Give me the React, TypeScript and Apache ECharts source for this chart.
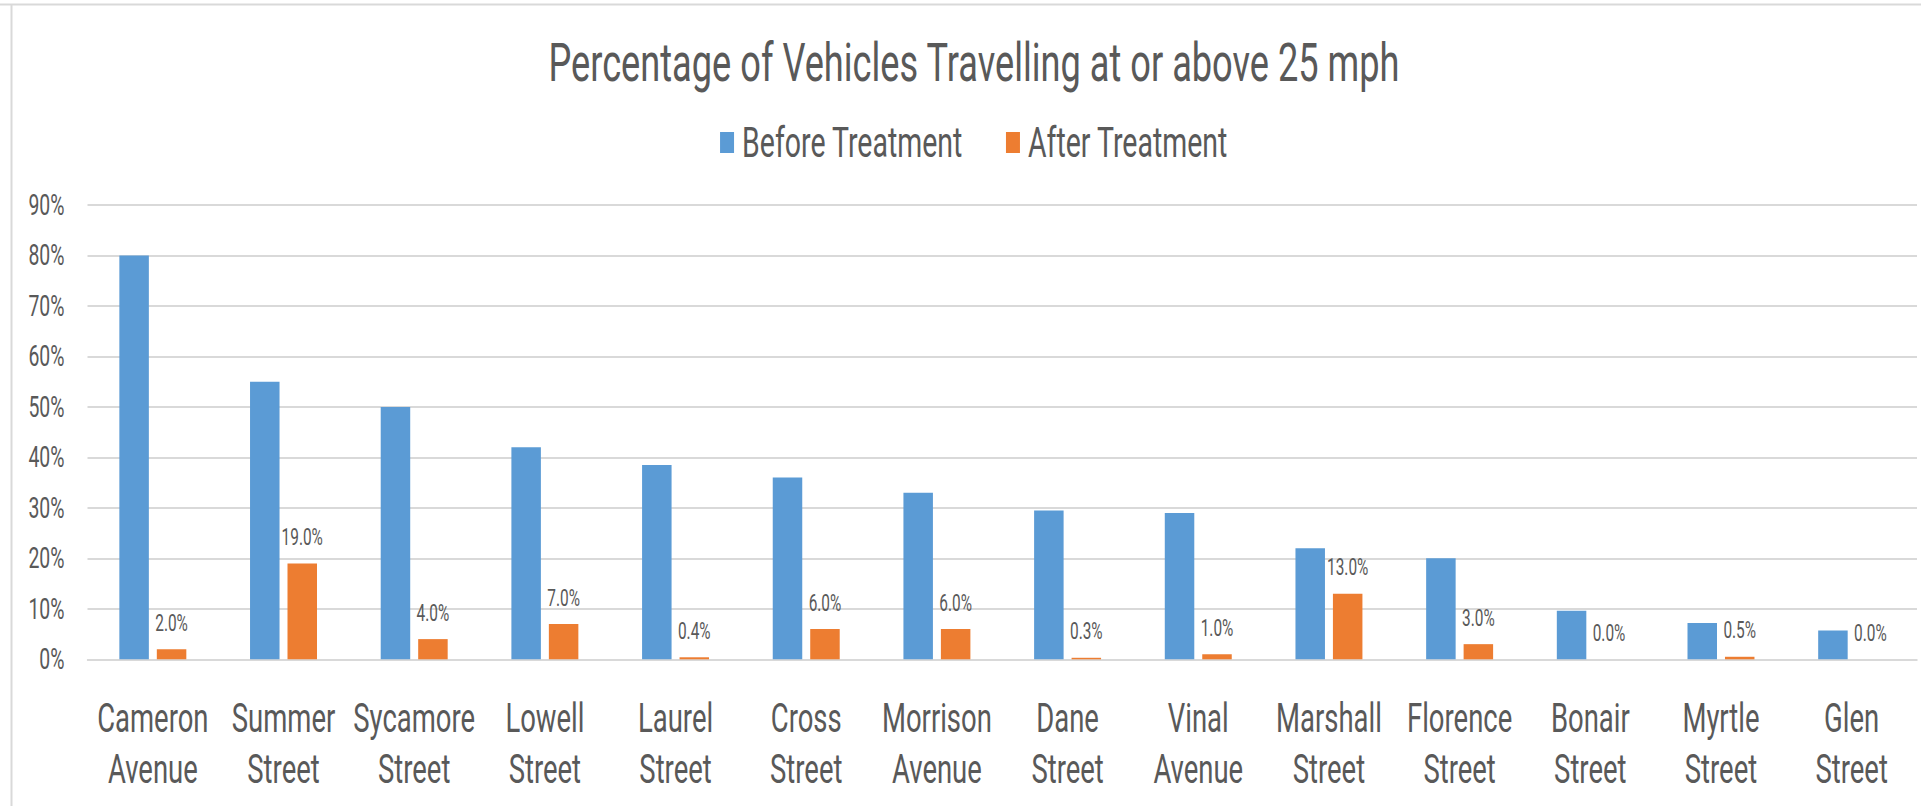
import React, { useEffect, useRef } from "react";
import * as echarts from "echarts";

const chartTitle = "Percentage of Vehicles Travelling at or above 25 mph";
const categories = [
  "Cameron Avenue",
  "Summer Street",
  "Sycamore Street",
  "Lowell Street",
  "Laurel Street",
  "Cross Street",
  "Morrison Avenue",
  "Dane Street",
  "Vinal Avenue",
  "Marshall Street",
  "Florence Street",
  "Bonair Street",
  "Myrtle Street",
  "Glen Street",
];
const seriesNames = ["Before Treatment", "After Treatment"];
const beforeTreatment = [80, 55, 50, 42, 38.5, 36, 33, 29.5, 29, 22, 20, 9.6, 7.2, 5.7];
const afterTreatment = [2, 19, 4, 7, 0.4, 6, 6, 0.3, 1, 13, 3, 0, 0.5, 0];
const yMin = 0;
const yMax = 90;
const yStep = 10;

// horizontal squeeze of the whole picture (the reference is horizontally condensed)
const S = 0.67;
const FULL_W = 1948;
const H = 806;
const W = FULL_W / S;

export default function App() {
  const ref = useRef<HTMLDivElement>(null);

  useEffect(() => {
    if (!ref.current) return;
    const chart = echarts.init(ref.current, null, { renderer: "svg", width: W, height: H });
    const grey = "#595959";
    const gridGrey = "#d9d9d9";
    chart.setOption({
      animation: false,
      backgroundColor: "#ffffff",
      textStyle: { fontFamily: "Roboto, 'Noto Sans', sans-serif" },
      title: {
        text: chartTitle,
        left: "center",
        top: 35,
        padding: 0,
        textStyle: { fontSize: 54, lineHeight: 54, fontWeight: "normal", color: grey },
      },
      legend: {
        data: seriesNames,
        left: "center",
        top: 121,
        padding: 0,
        itemWidth: 14 / S,
        itemHeight: 21,
        itemGap: 43 / S,
        icon: "rect",
        textStyle: { fontSize: 42.5, lineHeight: 42, color: grey, padding: [0, 0, 0, 7] },
      },
      graphic: [
        {
          type: "line",
          shape: { x1: 0, y1: 4.5, x2: W, y2: 4.5 },
          style: { stroke: gridGrey, lineWidth: 2 },
          silent: true,
        },
        {
          type: "line",
          shape: { x1: 11.5 / S, y1: 4.5, x2: 11.5 / S, y2: H },
          style: { stroke: gridGrey, lineWidth: 3 },
          silent: true,
        },
      ],
      grid: {
        left: 87.5 / S,
        right: (FULL_W - 1917) / S,
        top: 205,
        bottom: H - 659.3,
        containLabel: false,
        outerBoundsMode: "none",
      },
      xAxis: {
        type: "category",
        data: categories,
        axisTick: { show: false },
        axisLine: { lineStyle: { color: gridGrey, width: 2 } },
        axisLabel: {
          interval: 0,
          fontSize: 41,
          lineHeight: 51,
          color: grey,
          margin: 34,
          formatter: (v: string) => v.replace(" ", "\n"),
        },
      },
      yAxis: {
        type: "value",
        min: yMin,
        max: yMax,
        interval: yStep,
        axisLine: { show: false },
        axisTick: { show: false },
        axisLabel: { formatter: "{value}%", fontSize: 29, color: grey, margin: 23 / S },
        splitLine: { lineStyle: { color: gridGrey, width: 2 } },
      },
      series: [
        {
          name: seriesNames[0],
          type: "bar",
          data: beforeTreatment,
          barWidth: 29.5 / S,
          barGap: "27%",
          itemStyle: { color: "#5B9BD5" },
        },
        {
          name: seriesNames[1],
          type: "bar",
          data: afterTreatment,
          barWidth: 29.5 / S,
          barGap: "27%",
          itemStyle: { color: "#ED7D31" },
          label: {
            show: true,
            position: "top",
            distance: 14.5,
            fontSize: 23,
            lineHeight: 23,
            color: grey,
            formatter: (p: any) => Number(p.value).toFixed(1) + "%",
          },
        },
      ],
    });
    return () => chart.dispose();
  }, []);

  return (
    <div
      ref={ref}
      style={{
        position: "fixed",
        left: 0,
        top: 0,
        width: W,
        height: H,
        transform: `scaleX(${S})`,
        transformOrigin: "0 0",
        background: "#ffffff",
      }}
    />
  );
}
